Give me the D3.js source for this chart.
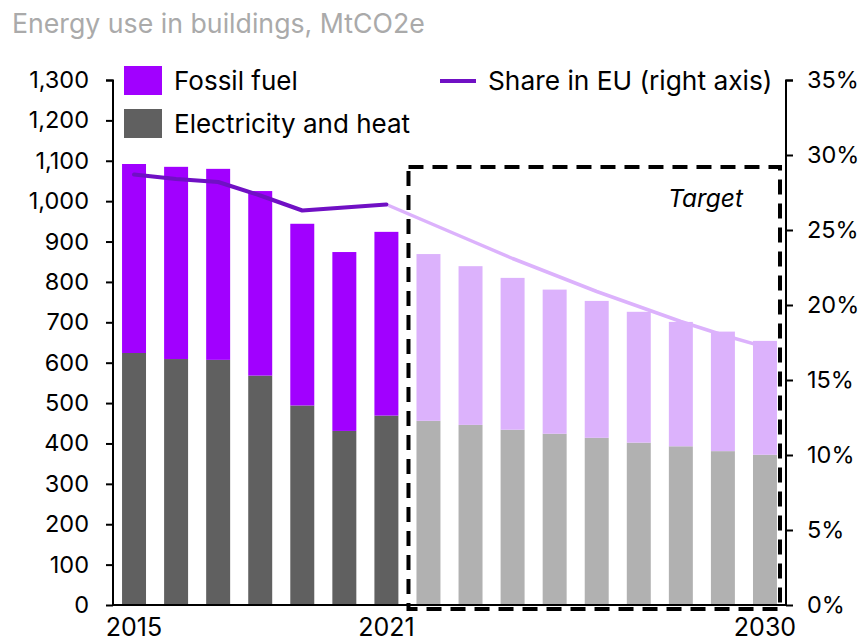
<!DOCTYPE html>
<html>
<head>
<meta charset="utf-8">
<script src="https://cdn.jsdelivr.net/npm/d3@7"></script>
<style>
  body { margin: 0; background: #fff; }
  svg { font-family: "Inter", "Liberation Sans", sans-serif; }
</style>
</head>
<body>
<div id="chart"></div>
<script>
// data
var years = [2015, 2016, 2017, 2018, 2019, 2020, 2021, 2022, 2023, 2024, 2025, 2026, 2027, 2028, 2029, 2030];
var electricity = [624, 609, 607, 568, 494, 431, 469, 456, 446, 434, 424, 414, 402, 393, 381, 372];
var fossil = [468, 476, 473, 457, 450, 443, 455, 413, 393, 376, 357, 339, 324, 308, 296, 282];
var shareEU = [28.7, 28.4, 28.2, 27.3, 26.3, 26.5, 26.7, 25.5, 24.3, 23.1, 22.0, 20.9, 19.9, 18.9, 18.0, 17.2];
var leftTicks = [0, 100, 200, 300, 400, 500, 600, 700, 800, 900, 1000, 1100, 1200, 1300];
var rightTicks = [0, 5, 10, 15, 20, 25, 30, 35];
var yearLabels = [2015, 2021, 2030];
var lastActual = 2021;

var svgWidth = 863;
var svgHeight = 643;
var margin = { top: 80, right: 77, bottom: 38, left: 113 };
var width = svgWidth - margin.left - margin.right;
var height = svgHeight - margin.top - margin.bottom;

var col = {
    fossil: "#a100ff",
    elec: "#606060",
    fossilLight: "#dcb2fc",
    elecLight: "#b1b1b1",
    line: "#7010c4",
    lineLight: "#dcb2fc"
};

var svg = d3.select("#chart")
    .append("svg")
    .attr("width", svgWidth)
    .attr("height", svgHeight);

// title
svg.append("text")
    .attr("x", 12)
    .attr("y", 33)
    .attr("fill", "#aaaaaa")
    .style("font-size", "26.7px")
    .text("Energy use in buildings, MtCO2e");

var chartGroup = svg.append("g")
    .attr("transform", `translate(${margin.left}, ${margin.top})`);

var x = d3.scaleBand()
    .domain(years)
    .range([0, width])
    .paddingInner(0.43)
    .paddingOuter(0.215);

var y = d3.scaleLinear().domain([0, 1300]).range([height, 0]);
var y2 = d3.scaleLinear().domain([0, 35]).range([height, 0]);

var rows = years.map(function (yr, i) {
    return { year: yr, elec: electricity[i], fossil: fossil[i], share: shareEU[i], target: yr > lastActual };
});

// stacked bars
chartGroup.selectAll("rect.elec")
    .data(rows)
    .enter()
    .append("rect")
    .attr("class", "elec")
    .attr("x", d => x(d.year))
    .attr("width", x.bandwidth())
    .attr("y", d => y(d.elec))
    .attr("height", d => height - y(d.elec))
    .attr("fill", d => d.target ? col.elecLight : col.elec);

chartGroup.selectAll("rect.fossil")
    .data(rows)
    .enter()
    .append("rect")
    .attr("class", "fossil")
    .attr("x", d => x(d.year))
    .attr("width", x.bandwidth())
    .attr("y", d => y(d.elec + d.fossil))
    .attr("height", d => y(d.elec) - y(d.elec + d.fossil))
    .attr("fill", d => d.target ? col.fossilLight : col.fossil);

// share line: actual part dark, target part light
var line = d3.line()
    .x(d => x(d.year) + x.bandwidth() / 2)
    .y(d => y2(d.share));

chartGroup.append("path")
    .datum(rows.filter(d => d.year >= lastActual))
    .attr("d", line)
    .attr("fill", "none")
    .attr("stroke", col.lineLight)
    .attr("stroke-width", 3.5)
    .attr("stroke-linejoin", "round");

chartGroup.append("path")
    .datum(rows.filter(d => d.year <= lastActual))
    .attr("d", line)
    .attr("fill", "none")
    .attr("stroke", col.line)
    .attr("stroke-width", 4)
    .attr("stroke-linejoin", "round")
    .attr("stroke-linecap", "round");

// axes
var leftAxis = d3.axisLeft(y)
    .tickValues(leftTicks)
    .tickSize(7)
    .tickPadding(17)
    .tickFormat(d3.format(","));

var rightAxis = d3.axisRight(y2)
    .tickValues(rightTicks)
    .tickSize(7)
    .tickPadding(14)
    .tickFormat(d => d + "%");

var bottomAxis = d3.axisBottom(x)
    .tickValues(yearLabels)
    .tickSize(0)
    .tickPadding(13);

var gx = chartGroup.append("g")
    .attr("transform", `translate(0, ${height})`)
    .call(bottomAxis);
gx.select(".domain").remove();

chartGroup.append("line")
    .attr("x1", 0).attr("x2", width)
    .attr("y1", height).attr("y2", height)
    .attr("stroke", "#000").attr("stroke-width", 2);

var gl = chartGroup.append("g").call(leftAxis);
var gr = chartGroup.append("g")
    .attr("transform", `translate(${width}, 0)`)
    .call(rightAxis);

[gl, gr].forEach(function (g) {
    g.selectAll(".domain").attr("stroke", "#000").attr("stroke-width", 2).attr("d", function () {
        return d3.select(this).attr("d").replace(/M-?\d+(\.\d+)?,/, "M0,").replace(/H-?\d+(\.\d+)?V/, "V");
    });
    g.selectAll(".tick line").attr("stroke", "#000").attr("stroke-width", 2);
    g.selectAll(".tick text")
        .attr("fill", "#000")
        .style("font-size", "23.5px")
        .style("font-family", "Inter, sans-serif");
});
gx.selectAll(".tick text")
    .attr("fill", "#000")
    .style("font-size", "25px")
    .style("font-family", "Inter, sans-serif");

// target box
var bx0 = x(2022) - 8;
var bx1 = width - 6;
var by0 = y2(29.2);
chartGroup.append("rect")
    .attr("x", bx0)
    .attr("y", by0)
    .attr("width", bx1 - bx0)
    .attr("height", height + 4 - by0)
    .attr("fill", "none")
    .attr("stroke", "#000")
    .attr("stroke-width", 4)
    .attr("stroke-dasharray", "15,9");

chartGroup.append("text")
    .attr("x", bx1 - 37)
    .attr("y", by0 + 40)
    .attr("text-anchor", "end")
    .style("font-size", "24.5px")
    .style("font-style", "italic")
    .text("Target");

// legend
var legend = svg.append("g");
var legItems = [
    { label: "Fossil fuel", color: col.fossil, y: 66 },
    { label: "Electricity and heat", color: col.elec, y: 109 }
];
legItems.forEach(function (d) {
    legend.append("rect")
        .attr("x", 124).attr("y", d.y)
        .attr("width", 38).attr("height", 29)
        .attr("fill", d.color);
    legend.append("text")
        .attr("x", 174).attr("y", d.y + 24)
        .style("font-size", "26px")
        .text(d.label);
});
legend.append("line")
    .attr("x1", 440).attr("x2", 476)
    .attr("y1", 81).attr("y2", 81)
    .attr("stroke", col.line).attr("stroke-width", 4);
legend.append("text")
    .attr("x", 488).attr("y", 90)
    .style("font-size", "26.3px")
    .text("Share in EU (right axis)");
</script>
</body>
</html>
